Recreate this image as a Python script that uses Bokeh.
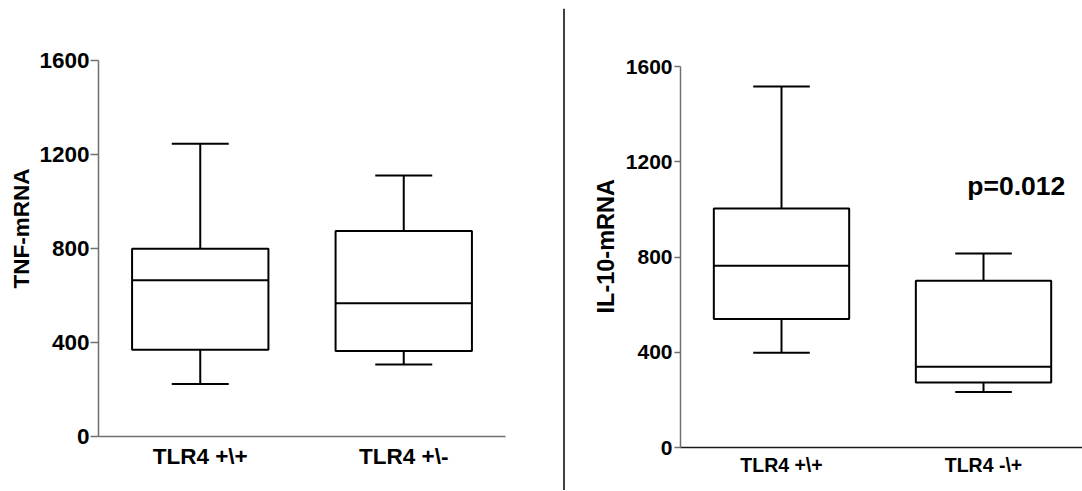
from bokeh.plotting import figure
from bokeh.layouts import row
from bokeh.models import FixedTicker, Label, Span, ColumnDataSource, Title
from bokeh.embed import file_html
from bokeh.resources import INLINE

# ---- data ----
tnf_categories = ["TLR4 +\\+", "TLR4 +\\-"]
tnf_whisk_hi = [1246, 1111]
tnf_q3 = [799, 875]
tnf_median = [665, 567]
tnf_q1 = [369, 364]
tnf_whisk_lo = [223, 306]

il10_categories = ["TLR4 +\\+", "TLR4 -\\+"]
il10_whisk_hi = [1516, 815]
il10_q3 = [1004, 700]
il10_median = [763, 339]
il10_q1 = [540, 273]
il10_whisk_lo = [398, 233]

y_ticks = [0, 400, 800, 1200, 1600]
p_value_text = "p=0.012"

FONT = "Liberation Sans"
BOX_W = 0.67
CAP_W = 0.28
H = 490


def make_panel(cats, hi, q3, med, q1, lo, ylabel, width, height, mb_left, mb_right,
               mb_top, mb_bottom, x_end, tick_size, label_size, ylabel_size,
               tick_out, tick_standoff, xaxis_color, ylabel_offset, ylabel_standoff,
               xlabel_standoff):
    xs = list(range(1, len(cats) + 1))
    p = figure(width=width, height=height, x_range=(0.5, x_end), y_range=(0, 1600),
               output_backend="svg", toolbar_location=None, frame_align=False,
               min_border_left=mb_left, min_border_right=mb_right,
               min_border_top=mb_top, min_border_bottom=mb_bottom)
    p.outline_line_color = None
    p.grid.grid_line_color = None
    p.background_fill_color = "white"
    p.border_fill_color = "white"

    src = ColumnDataSource(dict(
        x=xs, hi=hi, q3=q3, med=med, q1=q1, lo=lo,
        bx0=[x - BOX_W / 2 for x in xs], bx1=[x + BOX_W / 2 for x in xs],
        cx0=[x - CAP_W / 2 for x in xs], cx1=[x + CAP_W / 2 for x in xs],
    ))
    # whiskers
    p.segment(x0="x", y0="q3", x1="x", y1="hi", source=src, line_color="black", line_width=2)
    p.segment(x0="x", y0="lo", x1="x", y1="q1", source=src, line_color="black", line_width=2)
    # caps
    p.segment(x0="cx0", y0="hi", x1="cx1", y1="hi", source=src, line_color="black", line_width=2)
    p.segment(x0="cx0", y0="lo", x1="cx1", y1="lo", source=src, line_color="black", line_width=2)
    # boxes
    p.vbar(x="x", width=BOX_W, bottom="q1", top="q3", source=src, fill_color="white",
           line_color="black", line_width=2)
    # medians
    p.segment(x0="bx0", y0="med", x1="bx1", y1="med", source=src, line_color="black", line_width=2)

    # y axis
    ya = p.yaxis[0]
    ya.ticker = FixedTicker(ticks=y_ticks, minor_ticks=[])
    ya.axis_line_color = "#707070"
    ya.axis_line_width = 1.5
    ya.major_tick_line_color = "#707070"
    ya.major_tick_line_width = 1.5
    ya.major_tick_in = 0
    ya.major_tick_out = tick_out
    ya.minor_tick_line_color = None
    ya.major_label_standoff = tick_standoff
    ya.major_label_text_font = FONT
    ya.major_label_text_font_style = "bold"
    ya.major_label_text_font_size = f"{tick_size}px"
    ya.major_label_text_color = "black"

    # x axis
    xa = p.xaxis[0]
    xa.ticker = FixedTicker(ticks=xs, minor_ticks=[])
    xa.major_label_overrides = {x: c for x, c in zip(xs, cats)}
    xa.axis_line_color = xaxis_color
    xa.axis_line_width = 1.5
    xa.major_tick_line_color = None
    xa.minor_tick_line_color = None
    xa.major_tick_in = 0
    xa.major_tick_out = 0
    xa.major_label_standoff = xlabel_standoff
    xa.major_label_text_font = FONT
    xa.major_label_text_font_style = "bold"
    xa.major_label_text_font_size = f"{label_size}px"
    xa.major_label_text_color = "black"

    t = Title(text=ylabel, align="left", offset=ylabel_offset, standoff=ylabel_standoff,
              text_font=FONT, text_font_style="bold", text_font_size=f"{ylabel_size}px",
              text_color="black")
    p.add_layout(t, "left")
    return p


p1 = make_panel(tnf_categories, tnf_whisk_hi, tnf_q3, tnf_median, tnf_q1, tnf_whisk_lo,
                "TNF-mRNA", width=562, height=H, mb_left=98, mb_right=57,
                mb_top=60, mb_bottom=H - 60 - 376, x_end=2.5, tick_size=22.5, label_size=22.5,
                ylabel_size=22.5, tick_out=8, tick_standoff=1, xaxis_color="#707070",
                ylabel_offset=148, ylabel_standoff=5, xlabel_standoff=7)

p2 = make_panel(il10_categories, il10_whisk_hi, il10_q3, il10_median, il10_q1, il10_whisk_lo,
                "IL-10-mRNA", width=517, height=H, mb_left=115, mb_right=0,
                mb_top=66, mb_bottom=H - 66 - 381, x_end=2.49, tick_size=21, label_size=19.5,
                ylabel_size=23.5, tick_out=6, tick_standoff=2, xaxis_color="#1a1a1a",
                ylabel_offset=134, ylabel_standoff=8, xlabel_standoff=6)

p2.add_layout(Label(x=1.92, y=1100, text=p_value_text, text_align="left",
                    text_baseline="alphabetic", text_font=FONT, text_font_style="bold",
                    text_font_size="26.5px", text_color="black"))

# divider
pd = figure(width=3, height=H, x_range=(0, 1), y_range=(0, 1), output_backend="svg",
            toolbar_location=None, x_axis_type=None, y_axis_type=None, frame_align=False,
            min_border=0, min_border_left=0, min_border_right=0,
            min_border_top=8, min_border_bottom=0)
pd.outline_line_color = None
pd.grid.grid_line_color = None
pd.add_layout(Span(location=0.5, dimension="height", line_color="black", line_width=1.5))

layout = row(p1, pd, p2)
open("out.html", "w").write(file_html(layout, INLINE))
